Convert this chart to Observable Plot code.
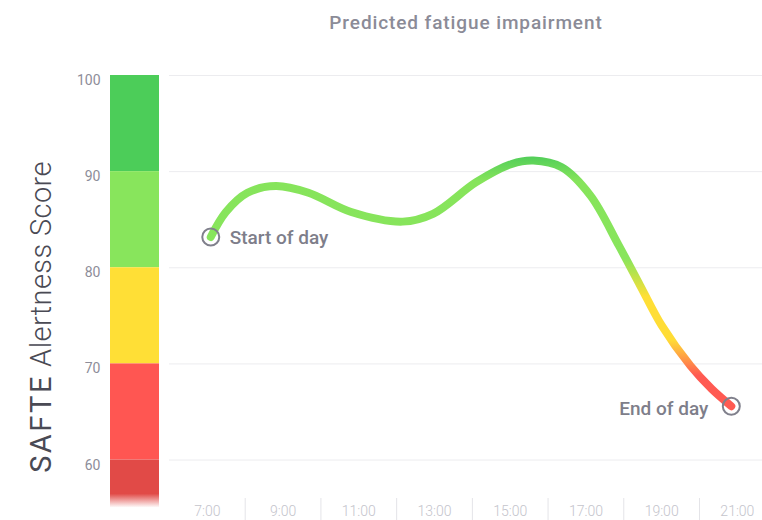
<!DOCTYPE html>
<html><head><meta charset="utf-8">
<script src="https://cdn.jsdelivr.net/npm/d3@7"></script>
<script src="https://cdn.jsdelivr.net/npm/@observablehq/plot@0.6"></script>
<style>
html,body{margin:0;padding:0;background:#fff;}
#wrap{position:relative;width:762px;height:520px;overflow:hidden;font-family:Roboto,"Noto Sans",sans-serif;}
#wrap svg{position:absolute;left:0;top:0;}
#title{position:absolute;left:466px;top:22px;transform:translate(-50%,-50%);font-size:19px;font-weight:500;color:#8b8b97;letter-spacing:0.9px;white-space:nowrap;}
#ylabel{position:absolute;left:41px;top:317px;transform:translate(-50%,-50%) rotate(-90deg);white-space:nowrap;font-size:29px;line-height:1;color:#4a4a54;}
#ylabel .a{letter-spacing:2.5px;font-weight:400}
#ylabel .b{font-weight:300;letter-spacing:0.4px}
</style></head><body>
<div id="wrap"><div id="title">Predicted fatigue impairment</div><div id="ylabel"><span class="a">SAFTE</span> <span class="b">Alertness Score</span></div></div>
<script>
// ---- data ----
const hours  = [7.09, 7.49, 8.06, 8.81, 9.67, 10.80, 12.16, 12.96, 14.10, 15.04, 15.61, 16.36, 17.12, 17.87, 18.44, 19.00, 19.76, 20.32, 20.84];
const scores = [83.2, 85.8, 87.8, 88.5, 87.8, 85.8, 84.8, 85.6, 88.9, 90.8, 91.15, 90.45, 87.5, 82.3, 78.1, 74.0, 69.8, 67.4, 65.6];
const endLabels = ["Start of day", "End of day"];
const bandHigh = [100, 90, 80, 70, 60];
const bandLow  = [90, 80, 70, 60, 55];
const bandColors = ["#4ccd59", "#88e55c", "#ffdf36", "#ff5652", "url(#bandFade)"];
const yTicks = [60, 70, 80, 90, 100];
const labelHours = [7, 9, 11, 13, 15, 17, 19, 21];
const tickLabels = ["7:00", "9:00", "11:00", "13:00", "15:00", "17:00", "19:00", "21:00"];
const sepHours = [8, 10, 12, 14, 16, 18, 20];
const lineStopValues = [91.6, 89.0, 81.0, 77.0, 72.5, 70.6, 68.8];
const lineStopColors = ["#52ce59", "#86e45b", "#88e55c", "#ffdf36", "#ffdc36", "#ff9b45", "#ff5a52"];

const points = hours.map((h, i) => ({h, s: scores[i]}));
const ends = [points[0], points[points.length - 1]];
const bands = bandHigh.map((hi, i) => ({hi, lo: bandLow[i], color: bandColors[i]}));
const font = "Roboto, 'Noto Sans', sans-serif";

// ---- band bar ----
const bar = Plot.plot({
  width: 162, height: 520,
  marginLeft: 110, marginRight: 3, marginTop: 75, marginBottom: 12.4,
  y: {domain: [55, 100], axis: null},
  color: {type: "identity"},
  style: {background: "transparent", fontFamily: font, overflow: "visible"},
  marks: [
    Plot.rect(bands, {y1: "lo", y2: "hi", fill: "color"}),
    Plot.axisY({ticks: yTicks, tickSize: 0, tickPadding: 10, dy: 5, fontSize: 14, color: "#8d8d99", label: null})
  ]
});
{
  const defs = d3.select(bar).insert("defs", ":first-child");
  const g = defs.append("linearGradient").attr("id", "bandFade").attr("x1", 0).attr("x2", 0).attr("y1", 0).attr("y2", 1);
  g.append("stop").attr("offset", 0).attr("stop-color", "#e14a47");
  g.append("stop").attr("offset", 0.71).attr("stop-color", "#e14a47");
  g.append("stop").attr("offset", 1).attr("stop-color", "#e14a47").attr("stop-opacity", 0);
}

// ---- chart ----
const chart = Plot.plot({
  width: 762, height: 520,
  marginLeft: 169, marginRight: 0, marginTop: 75, marginBottom: 22,
  x: {domain: [6, 21.664]},
  y: {domain: [56, 100], axis: null},
  style: {background: "transparent", fontFamily: font, overflow: "visible"},
  marks: [
    Plot.ruleY(yTicks, {stroke: "#ececef", strokeWidth: 1}),
    Plot.axisX({ticks: sepHours, tickSize: 22, tickFormat: () => "", stroke: "#e4e4e8", strokeOpacity: 1, label: null}),
    Plot.axisX({ticks: labelHours, tickSize: 0, tickPadding: 8, tickFormat: d => tickLabels[labelHours.indexOf(d)], fontSize: 14, fill: "#c4c4cc", fontWeight: 300, label: null}),
    Plot.line(points, {x: "h", y: "s", stroke: "url(#lineGrad)", strokeWidth: 8, curve: "catmull-rom", strokeLinecap: "round"}),
    Plot.dot(ends, {x: "h", y: "s", r: 8.5, stroke: "#80808c", strokeWidth: 2, fill: "none"}),
    Plot.text([ends[0]], {x: "h", y: "s", text: () => endLabels[0], textAnchor: "start", dx: 19, dy: 1, fontSize: 19, fontWeight: 500, fill: "#7e7e8a"}),
    Plot.text([ends[1]], {x: "h", y: "s", text: () => endLabels[1], textAnchor: "end", dx: -23, dy: 3, fontSize: 19, fontWeight: 500, fill: "#7e7e8a"})
  ]
});
{
  const ys = chart.scale("y");
  const y0 = ys.apply(100), y1 = ys.apply(56);
  const defs = d3.select(chart).insert("defs", ":first-child");
  const g = defs.append("linearGradient").attr("id", "lineGrad").attr("gradientUnits", "userSpaceOnUse")
    .attr("x1", 0).attr("x2", 0).attr("y1", y0).attr("y2", y1);
  lineStopValues.forEach((v, i) => g.append("stop").attr("offset", (ys.apply(v) - y0) / (y1 - y0)).attr("stop-color", lineStopColors[i]));
}

const wrap = document.getElementById("wrap");
wrap.appendChild(chart);
wrap.appendChild(bar);
</script>
</body></html>
